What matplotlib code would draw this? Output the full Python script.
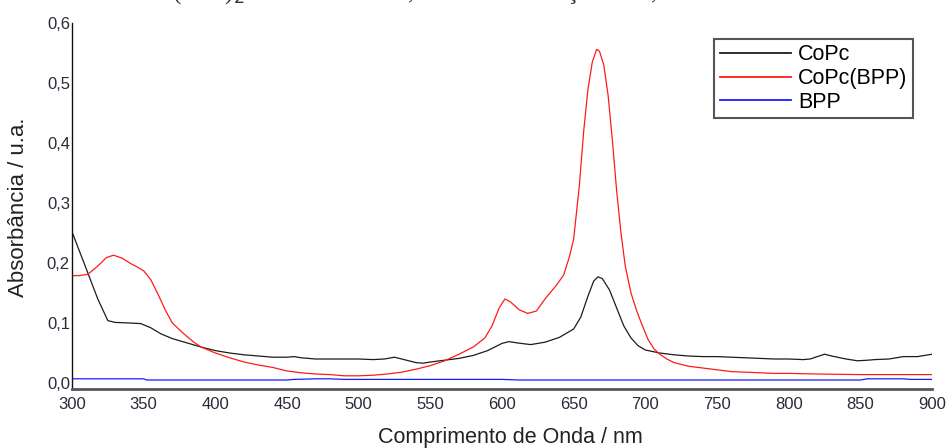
import matplotlib
matplotlib.use("Agg")
import matplotlib.pyplot as plt

# wavelength (nm) / absorbance
wl_copc = [300, 310, 318, 325, 330, 340, 348, 355, 362, 370, 380, 390, 400,
           410, 420, 430, 440, 450, 455, 460, 470, 480, 490, 500, 510, 518,
           525, 530, 540, 545, 550, 560, 570, 580, 590, 600, 605, 610, 620,
           630, 640, 650, 655, 660, 664, 667, 670, 675, 680, 685, 690, 695,
           700, 710, 720, 730, 740, 750, 760, 770, 780, 790, 800, 810, 815,
           820, 825, 830, 840, 848, 855, 860, 870, 880, 890, 900]
abs_copc = [0.252, 0.19, 0.14, 0.104, 0.101, 0.100, 0.099, 0.092, 0.082,
            0.074, 0.067, 0.060, 0.054, 0.050, 0.047, 0.045, 0.043, 0.043,
            0.044, 0.042, 0.040, 0.040, 0.040, 0.040, 0.039, 0.040, 0.043,
            0.040, 0.034, 0.033, 0.035, 0.038, 0.041, 0.046, 0.054, 0.066,
            0.069, 0.067, 0.064, 0.068, 0.076, 0.090, 0.110, 0.145, 0.170,
            0.177, 0.174, 0.155, 0.125, 0.095, 0.075, 0.062, 0.055, 0.050,
            0.047, 0.045, 0.044, 0.044, 0.043, 0.042, 0.041, 0.040, 0.040,
            0.039, 0.040, 0.044, 0.048, 0.045, 0.040, 0.037, 0.038, 0.039,
            0.040, 0.044, 0.044, 0.048]

wl_copc_bpp = [300, 305, 311, 318, 324, 329, 335, 341, 345, 350, 355, 360,
               365, 370, 378, 385, 390, 400, 410, 420, 430, 440, 450, 460,
               470, 480, 490, 500, 510, 520, 530, 540, 550, 560, 570, 580,
               588, 593, 598, 602, 606, 612, 618, 624, 630, 638, 643, 647,
               650, 654, 657, 660, 663, 666, 668, 671, 674, 677, 680, 683,
               686, 690, 694, 698, 702, 706, 710, 715, 720, 730, 740, 750,
               760, 770, 780, 790, 800, 820, 850, 900]
abs_copc_bpp = [0.179, 0.179, 0.181, 0.195, 0.209, 0.213, 0.208, 0.199,
                0.194, 0.187, 0.172, 0.148, 0.122, 0.100, 0.082, 0.068,
                0.060, 0.050, 0.042, 0.035, 0.030, 0.026, 0.020, 0.017,
                0.015, 0.014, 0.012, 0.012, 0.013, 0.015, 0.018, 0.023,
                0.029, 0.037, 0.048, 0.060, 0.075, 0.095, 0.125, 0.140,
                0.135, 0.122, 0.116, 0.120, 0.140, 0.163, 0.180, 0.210,
                0.240, 0.330, 0.420, 0.490, 0.535, 0.556, 0.553, 0.530,
                0.480, 0.405, 0.320, 0.250, 0.195, 0.150, 0.120, 0.095,
                0.072, 0.057, 0.048, 0.040, 0.034, 0.028, 0.025, 0.022,
                0.019, 0.018, 0.017, 0.016, 0.016, 0.015, 0.014, 0.014]

wl_bpp = [300, 350, 352, 450, 455, 470, 480, 490, 600, 612, 850, 855, 880,
          885, 900]
abs_bpp = [0.007, 0.007, 0.005, 0.005, 0.006, 0.007, 0.007, 0.006, 0.006,
           0.005, 0.005, 0.007, 0.007, 0.006, 0.006]

x_ticks = [300, 350, 400, 450, 500, 550, 600, 650, 700, 750, 800, 850, 900]
y_ticks = [0.0, 0.1, 0.2, 0.3, 0.4, 0.5, 0.6]

plt.rcParams["font.family"] = ["Liberation Sans", "DejaVu Sans"]

W, H = 946, 448
fig = plt.figure(figsize=(W / 100, H / 100), dpi=100)
ax = fig.add_axes([72 / W, 1 - 389 / H, 860 / W, 366 / H])

ax.plot(wl_copc, abs_copc, color="#1c1c1c", lw=0.9, label="CoPc")
ax.plot(wl_copc_bpp, abs_copc_bpp, color="#ff1a1a", lw=0.9, label="CoPc(BPP)")
ax.plot(wl_bpp, abs_bpp, color="#1a1aff", lw=0.9, label="BPP")

ax.set_xlim(300, 900)
ax.set_ylim(-0.01, 0.6)
ax.set_xticks(x_ticks)
ax.set_xticklabels([str(t) for t in x_ticks])
ax.set_yticks(y_ticks)
ax.set_yticklabels([("%.1f" % t).replace(".", ",") for t in y_ticks])
ax.tick_params(axis="both", length=0, labelsize=12, labelcolor="#2a2a3a")
ax.tick_params(axis="x", pad=6)
ax.tick_params(axis="y", pad=1.5)

for side in ["top", "right"]:
    ax.spines[side].set_visible(False)
ax.spines["left"].set_color("#111111")
ax.spines["left"].set_linewidth(1.0)
ax.spines["bottom"].set_color("#555555")
ax.spines["bottom"].set_linewidth(2.0)

leg = ax.legend(loc="upper right", bbox_to_anchor=(0.978, 0.956),
                fontsize=15.5, frameon=True, fancybox=False, framealpha=1,
                handlelength=3.3, handletextpad=0.35, labelspacing=0.12,
                borderpad=0.25, borderaxespad=0)
leg.get_frame().set_edgecolor("#555555")
leg.get_frame().set_linewidth(1.5)
for line in leg.get_lines():
    line.set_linewidth(1.3)

fig.text(18.5 / W, 1 - 207 / H, "Absorbância / u.a.", rotation=90,
         ha="center", va="center", fontsize=16, color="#222222")
fig.text(510 / W, 1 - 437 / H, "Comprimento de Onda / nm",
         ha="center", va="center", fontsize=15.5, color="#222222")

# caption cut off at the top of the picture (only its lowest pixels show)
fig.text(118 / W, 1 - 0.5 / H,
         "CoPc(BPP)$_2$ em clorofórmio, com concentração de 1,0 x 10$^{-5}$ mol/L",
         ha="left", va="baseline", fontsize=18, family="Liberation Serif",
         color="#333333")

fig.savefig("out.png", dpi=100)
